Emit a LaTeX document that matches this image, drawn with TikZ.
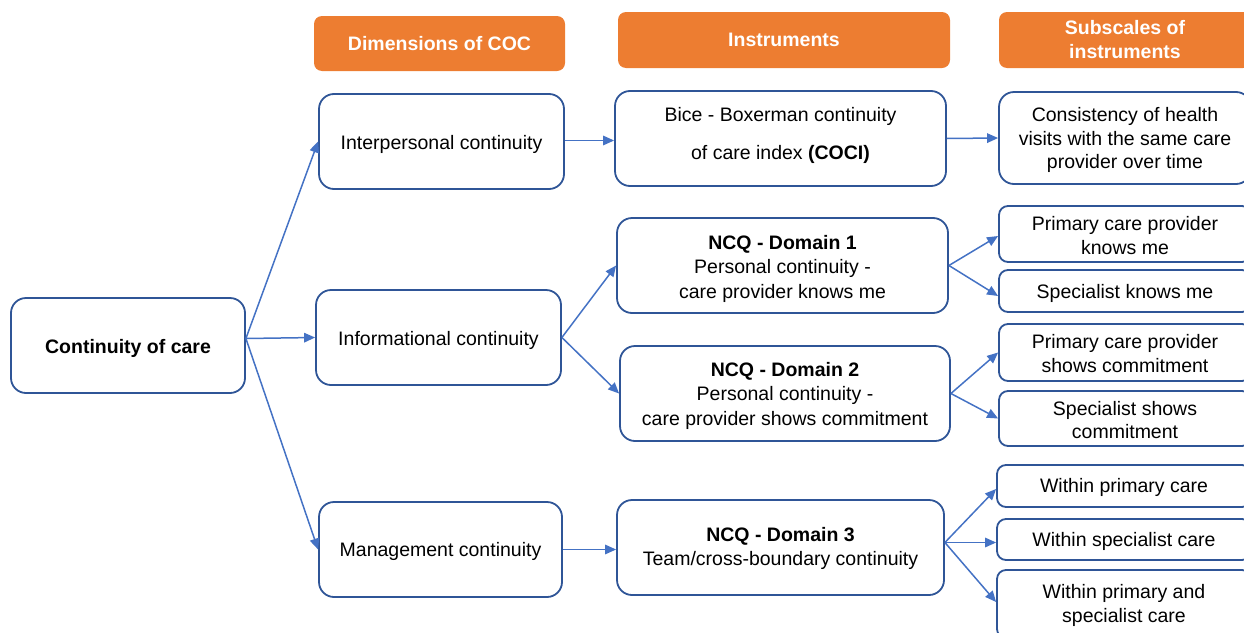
\documentclass[tikz,border=0pt]{standalone}
\usepackage{fontspec}
\setmainfont{Liberation Sans}
\usetikzlibrary{arrows.meta}
\definecolor{boxblue}{HTML}{2F5597}
\definecolor{arrblue}{HTML}{4472C4}
\definecolor{hdrorange}{HTML}{ED7D31}
\begin{document}
\begin{tikzpicture}[x=1pt,y=-1pt,
  every node/.style={inner sep=0pt,align=center,font=\fontsize{19.5}{23.5}\selectfont},
  wide/.style={font=\fontsize{19.5}{24.5}\selectfont},
  box/.style={draw=boxblue,line width=1.8pt,fill=white,rounded corners=15pt},
  sbox/.style={draw=boxblue,line width=1.8pt,fill=white,rounded corners=9pt},
  hdr/.style={fill=hdrorange,rounded corners=8pt,text=white,font=\fontsize{19.5}{24}\selectfont\bfseries},
  conn/.style={draw=arrblue,line width=1.5pt,-{Triangle[length=11pt,width=9.5pt]}}]
\useasboundingbox (0,0) rectangle (1244,632);
\clip (0,0) rectangle (1244,632);
% headers
\node[hdr,minimum width=251pt,minimum height=55pt] (h1) at (439.5,43.5) {Dimensions of COC};
\node[hdr,minimum width=332pt,minimum height=56pt] (h2) at (784,40) {Instruments};
\node[hdr,minimum width=252pt,minimum height=56pt] (h3) at (1125,40) {Subscales of\\instruments};
% main boxes
\node[box,minimum width=234pt,minimum height=95pt] (coc) at (128,345.5) {};
\node (coc-t) at ([yshift=-3pt]coc.center) {\textbf{Continuity of care}};
\node[box,minimum width=245pt,minimum height=95pt] (inter) at (441.5,141.5) {};
\node (inter-t) at ([yshift=-3pt]inter.center) {Interpersonal continuity};
\node[box,minimum width=245pt,minimum height=95pt] (info) at (438.5,337.5) {};
\node (info-t) at ([yshift=-3pt]info.center) {Informational continuity};
\node[box,minimum width=243pt,minimum height=95pt] (mgmt) at (440.5,549.5) {};
\node (mgmt-t) at ([yshift=-2pt]mgmt.center) {Management continuity};
\node[box,minimum width=331pt,minimum height=95pt] (bice) at (780.5,138.5) {};
\node (bice-t) at ([yshift=3pt]bice.center) {Bice - Boxerman continuity\\[14pt]of care index \textbf{(COCI)}};
\node[box,minimum width=331pt,minimum height=95pt] (ncq1) at (782.5,265.5) {};
\node[wide] (ncq1-t) at ([yshift=-3pt]ncq1.center) {\textbf{NCQ - Domain 1}\\Personal continuity -\\care provider knows me};
\node[box,minimum width=330pt,minimum height=95pt] (ncq2) at (785,393.5) {};
\node[wide] (ncq2-t) at ([yshift=-2pt]ncq2.center) {\textbf{NCQ - Domain 2}\\Personal continuity -\\care provider shows commitment};
\node[box,minimum width=327pt,minimum height=95pt] (ncq3) at (780.5,547.5) {};
\node[wide] (ncq3-t) at ([yshift=-1pt]ncq3.center) {\textbf{NCQ - Domain 3}\\Team/cross-boundary continuity};
% subscales
\node[box,minimum width=252pt,minimum height=92pt] (cons) at (1125,138) {};
\node (cons-t) at ([yshift=-2pt]cons.center) {Consistency of health\\visits with the same care\\provider over time};
\node[sbox,minimum width=252pt,minimum height=56pt] (pk) at (1125,234) {};
\node (pk-t) at ([yshift=-1.5pt]pk.center) {Primary care provider\\knows me};
\node[sbox,minimum width=252pt,minimum height=42pt] (sk) at (1125,291) {};
\node (sk-t) at ([yshift=-2pt]sk.center) {Specialist knows me};
\node[sbox,minimum width=252pt,minimum height=57pt] (ps) at (1125,352.5) {};
\node (ps-t) at ([yshift=-1pt]ps.center) {Primary care provider\\shows commitment};
\node[sbox,minimum width=252pt,minimum height=55pt] (ss) at (1125,418.5) {};
\node (ss-t) at ([yshift=-1.5pt]ss.center) {Specialist shows\\commitment};
\node[sbox,minimum width=254pt,minimum height=42pt] (wp) at (1124,486) {};
\node (wp-t) at ([yshift=-1pt]wp.center) {Within primary care};
\node[sbox,minimum width=254pt,minimum height=41pt] (ws) at (1124,539.5) {};
\node (ws-t) at ([yshift=-2pt]ws.center) {Within specialist care};
\node[sbox,minimum width=254pt,minimum height=68pt] (wb) at (1124,604) {};
\node (wb-t) at ([yshift=-1.5pt]wb.center) {Within primary and\\specialist care};
% connectors
\coordinate (cocout) at ([yshift=7pt]coc.east);
\draw[conn] (cocout) -- (inter.west);
\draw[conn] (cocout) -- (info.west);
\draw[conn] (cocout) -- (mgmt.west);
\coordinate (interout) at ([yshift=1pt]inter.east);
\draw[conn] (interout) -- (interout -| bice.west);
\draw[conn] (bice.east) -- (cons.west);
\draw[conn] (info.east) -- (ncq1.west);
\draw[conn] (info.east) -- (ncq2.west);
\draw[conn] (ncq1.east) -- ([yshift=-2pt]pk.west);
\draw[conn] (ncq1.east) -- ([yshift=-5pt]sk.west);
\draw[conn] (ncq2.east) -- (ps.west);
\draw[conn] (ncq2.east) -- (ss.west);
\draw[conn] (mgmt.east) -- (mgmt.east -| ncq3.west);
\coordinate (ncq3out) at ([yshift=5pt]ncq3.east);
\draw[conn] (ncq3out) -- ([yshift=-3pt]wp.west);
\draw[conn] (ncq3out) -- (ncq3out -| ws.west);
\draw[conn] (ncq3out) -- ([yshift=2pt]wb.west);
\end{tikzpicture}
\end{document}
